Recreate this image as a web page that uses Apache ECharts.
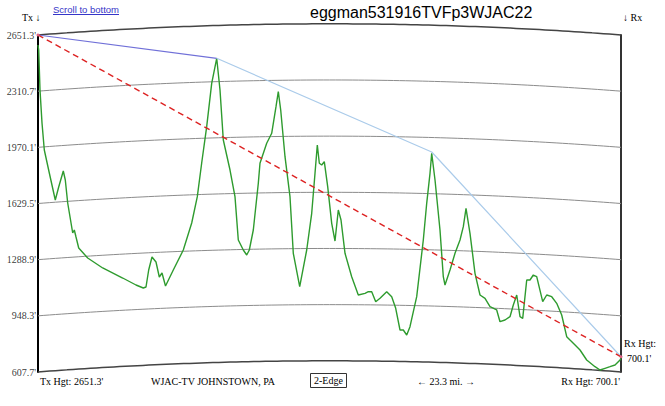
<!DOCTYPE html>
<html>
<head>
<meta charset="utf-8">
<script src="https://cdn.jsdelivr.net/npm/echarts@6/dist/echarts.min.js"></script>
<style>
html,body{margin:0;padding:0;background:#fff;}
#c{width:665px;height:406px;}
</style>
</head>
<body>
<div id="c"></div>
<script>
// ---- data ----
const pathMiles = 23.3;
const txHeight = 2651.3;
const rxHeight = 700.1;
const tickValues = [607.7, 948.3, 1288.9, 1629.5, 1970.1, 2310.7, 2651.3];
const terrainMiles = [0,0.028,0.08,0.16,0.252,0.452,0.691,0.827,1.011,1.091,1.187,1.387,1.451,1.519,1.627,1.986,2.586,3.385,3.917,4.208,4.316,4.424,4.556,4.716,4.848,4.956,5.096,5.407,5.807,6.143,6.367,6.542,6.742,6.942,7.142,7.274,7.406,7.674,7.873,8.005,8.205,8.341,8.445,8.605,8.805,8.872,9.14,9.34,9.512,9.604,9.7,9.872,10.071,10.203,10.459,10.739,10.939,11.071,11.163,11.243,11.338,11.442,11.578,11.738,11.87,12.002,12.11,12.27,12.537,12.801,13.069,13.201,13.337,13.497,13.669,13.936,14.136,14.296,14.468,14.6,14.736,14.867,15.135,15.399,15.535,15.667,15.735,15.867,16.066,16.198,16.266,16.466,16.666,16.866,16.998,17.106,17.265,17.465,17.665,17.865,18.065,18.332,18.464,18.664,18.864,18.996,19.132,19.264,19.372,19.532,19.663,19.795,19.931,20.171,20.331,20.531,20.73,20.93,21.13,21.394,21.662,21.929,22.261,22.461,22.661,22.861,23.061,23.261,23.3];
const terrainFeet = [2590.7,2560.3,2317.8,2117.7,1953.9,1814.5,1650.7,1729.6,1826.6,1772.0,1632.5,1450.6,1468.8,1426.4,1359.6,1299.0,1238.4,1177.7,1135.3,1117.1,1123.1,1226.2,1305.1,1274.8,1183.8,1208.0,1129.2,1226.2,1347.5,1511.3,1670.7,1875.1,2095.2,2358.4,2510.0,2317.8,2014.6,1832.6,1670.7,1408.2,1347.5,1317.2,1347.5,1468.8,1752.0,1873.3,1994.6,2055.2,2216.5,2307.5,2196.5,1913.3,1670.7,1327.5,1125.0,1347.5,1570.1,1812.6,1984.3,1873.3,1863.0,1883.0,1731.4,1509.4,1402.1,1590.1,1529.4,1327.5,1185.6,1074.6,1084.9,1094.7,1094.7,1034.0,1054.6,1094.7,1064.3,994.0,862.4,862.4,832.1,882.4,1064.3,1408.2,1630.7,1812.6,1933.9,1772.0,1468.8,1185.6,1135.3,1226.2,1327.5,1408.2,1488.8,1600.4,1448.8,1206.2,1074.6,1054.6,1003.7,983.7,912.7,923.0,943.0,1014.0,1074.6,943.0,933.3,1165.6,1165.6,1195.9,1185.6,1034.0,1074.6,1064.3,1024.3,953.4,821.8,781.7,741.1,680.5,639.8,619.8,630.1,639.8,650.1,680.5,690.0];
const edgeMiles = [0, 7.142, 15.735, 23.3];
const edgeFeet = [2651.3, 2510.0, 1941.8, 700.1];
const kFactor = 4/3, earthRadiusMi = 3959;

// ---- build ----
function bulge(d){ return d*(pathMiles-d)/(2*kFactor*earthRadiusMi)*5280; }
const steps = 100;
const arcSeries = tickValues.map((lv,i)=>{
  const pts=[];
  for(let s=0;s<=steps;s++){ const d=pathMiles*s/steps; pts.push([d, lv+bulge(d)]); }
  const edge = (i===0||i===tickValues.length-1);
  return {type:'line', data:pts, symbol:'none', clip:false, silent:true, z:1,
    lineStyle:{color: edge?'#444':'#8c8c8c', width: edge?1.5:1}};
});
const terrain = terrainMiles.map((m,i)=>[m, terrainFeet[i]]);
const edgeA = [[edgeMiles[0],edgeFeet[0]],[edgeMiles[1],edgeFeet[1]]];
const edgeB = edgeMiles.slice(1).map((m,i)=>[m, edgeFeet[i+1]]);

const serif = '"Liberation Serif","Times New Roman",serif';
const sans = '"Liberation Sans",Arial,sans-serif';
function txt(text, pos, extra){
  return Object.assign({text:text, padding:0, itemGap:0,
    textStyle:Object.assign({fontFamily:serif,fontSize:10,fontWeight:'normal',color:'#000',lineHeight:11}, extra||{})}, pos);
}

const chart = echarts.init(document.getElementById('c'), null, {renderer:'svg'});
chart.setOption({
  backgroundColor:'#fff',
  animation:false,
  title:[
    txt('Scroll to bottom',{left:53,top:4},{fontFamily:sans,fontSize:9.5,color:'#3535c8'}),
    txt('eggman531916TVFp3WJAC22',{left:310,top:4},{fontFamily:sans,fontSize:16,lineHeight:17}),
    txt('Tx \u2193',{left:22,top:11.5}),
    txt('\u2193 Rx',{left:623,top:11.5}),
    txt("Tx Hgt: 2651.3'",{left:40,top:375.5}),
    txt('WJAC-TV JOHNSTOWN, PA',{left:151,top:375.5}),
    Object.assign(txt('2-Edge',{left:310,top:373}),{padding:[2,4,2,4],borderColor:'#333',borderWidth:1}),
    txt('\u2190 23.3 mi. \u2192',{left:417,top:375.5}),
    txt("Rx Hgt: 700.1'",{right:45,top:375.5}),
    txt('Rx Hgt:',{left:624,top:337.5}),
    txt("700.1'",{left:627,top:352.5})
  ],
  graphic:[{type:'line', shape:{x1:53,y1:14.5,x2:119,y2:14.5}, style:{stroke:'#3535c8',lineWidth:1}}],
  grid:{left:38,right:44,top:35,bottom:34},
  xAxis:{type:'value',min:0,max:pathMiles,show:false},
  yAxis:[
    {type:'value',min:607.7,max:2651.3,position:'left',splitLine:{show:false},axisTick:{show:false},axisLabel:{show:false},
      axisLine:{show:true,lineStyle:{color:'#000',width:2}}},
    {type:'value',min:607.7,max:2651.3,position:'right',splitLine:{show:false},axisTick:{show:false},axisLabel:{show:false},
      axisLine:{show:true,lineStyle:{color:'#333',width:2}}}
  ],
  series: arcSeries.concat([
    {type:'scatter', data:tickValues.map(v=>[0,v]), symbolSize:0, silent:true, clip:false,
      label:{show:true, position:'left', distance:2, fontFamily:serif, fontSize:10, color:'#000',
        formatter:p=>p.value[1].toFixed(1)+"'"}},
    {type:'line', data:terrain, symbol:'none', clip:false, z:3, lineStyle:{color:'#2e9b2e',width:1.4}},
    {type:'line', data:edgeA, symbol:'none', clip:false, z:4, lineStyle:{color:'#7070d8',width:1.2}},
    {type:'line', data:edgeB, symbol:'none', clip:false, z:4, lineStyle:{color:'#aacbea',width:1.2}},
    {type:'line', data:[[0,txHeight],[pathMiles,rxHeight]], clip:false, z:5,
      symbol:'circle', symbolSize:3, itemStyle:{color:'#e06080'},
      lineStyle:{color:'#dd2222',width:1.4,type:[6,4]}}
  ])
});
</script>
</body>
</html>
